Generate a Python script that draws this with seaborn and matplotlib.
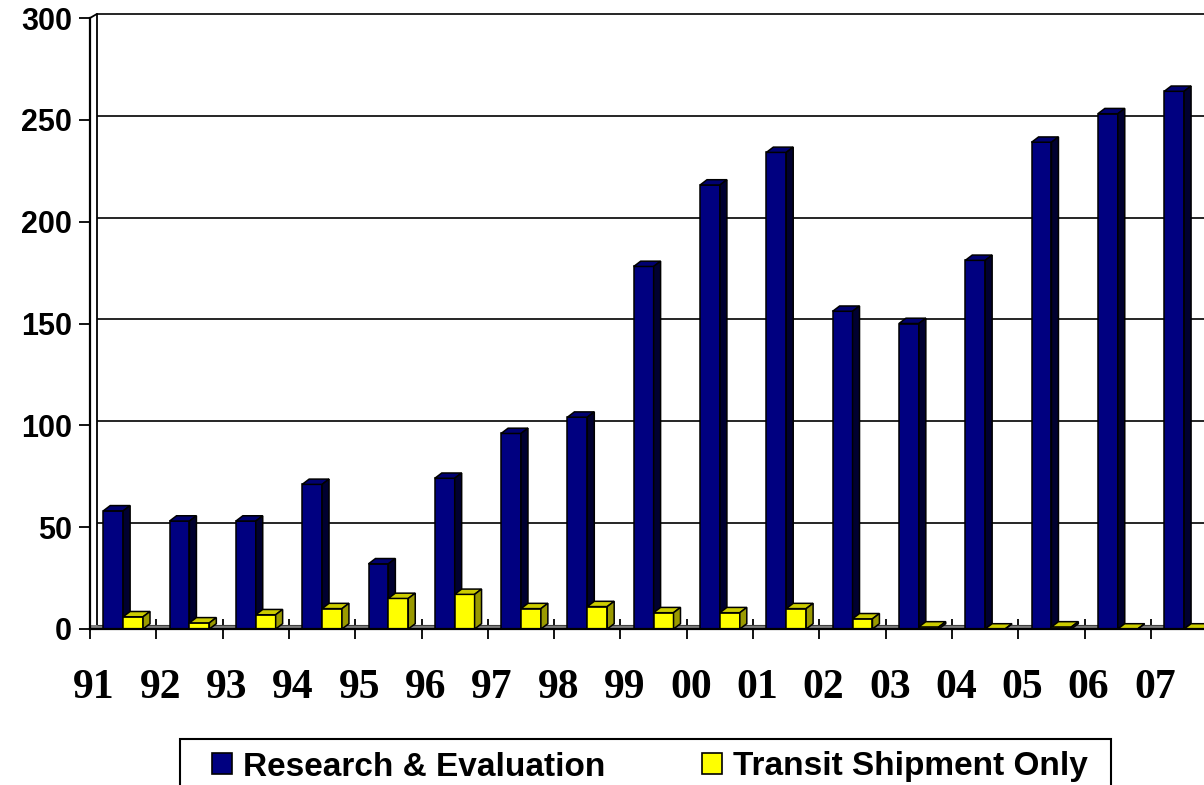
import numpy as np
import pandas as pd
import matplotlib
matplotlib.use("Agg")
import matplotlib.pyplot as plt
from matplotlib.patches import Polygon, Patch, Rectangle
import seaborn as sns

sns.set_style("white")
plt.rcParams['font.family'] = ['Liberation Sans', 'DejaVu Sans']
plt.rcParams['text.color'] = 'black'
plt.rcParams['xtick.color'] = 'black'
plt.rcParams['ytick.color'] = 'black'
plt.rcParams['axes.labelcolor'] = 'black'

# data
years = ['91', '92', '93', '94', '95', '96', '97', '98', '99',
         '00', '01', '02', '03', '04', '05', '06', '07']
research = [58, 53, 53, 71, 32, 74, 96, 104, 178,
            218, 234, 156, 150, 181, 239, 253, 264]
transit = [6, 3, 7, 10, 15, 17, 10, 11, 8,
           8, 10, 5, 1, 0, 1, 0, 0]
series = ['Research & Evaluation', 'Transit Shipment Only']
front_cols = ['#000080', '#ffff00']
side_cols = ['#000030', '#9a9a00']
top_cols = ['#000070', '#cccc00']
y_ticks = [0, 50, 100, 150, 200, 250, 300]

df = pd.DataFrame({
    'year': years * 2,
    'value': research + transit,
    'series': [series[0]] * len(years) + [series[1]] * len(years),
})

fig = plt.figure(figsize=(12.04, 7.85), dpi=100)
ax = fig.add_axes([90 / 1204, 156 / 785, 1 - 90 / 1204, 611 / 785])

sns.barplot(data=df, x='year', y='value', hue='series', order=years,
            hue_order=series, palette=front_cols, saturation=1, width=0.6,
            edgecolor='black', linewidth=1.1, legend=False, ax=ax)

ax.set_ylim(0, 300)
ax.set_xlim(-0.5, 16.3)

# fake 3D depth in data units
dx, dy = 0.105, 2.6
n = len(years)
for k, bar in enumerate(ax.patches):
    s = k // n
    x, w, h = bar.get_x(), bar.get_width(), bar.get_height()
    bar.set_zorder(3 + s)
    top = Polygon([(x, h), (x + w, h), (x + w + dx, h + dy), (x + dx, h + dy)],
                  closed=True, facecolor=top_cols[s], edgecolor='black',
                  linewidth=1.1, zorder=3 + s)
    side = Polygon([(x + w, 0), (x + w, h), (x + w + dx, h + dy), (x + w + dx, dy)],
                   closed=True, facecolor=side_cols[s], edgecolor='black',
                   linewidth=1.1, zorder=3 + s)
    ax.add_patch(top)
    ax.add_patch(side)

# back wall gridlines and wall
ax.hlines([t + 2 for t in y_ticks[1:]], -0.5 + dx, 16.3, color='black',
          linewidth=1.2, zorder=1, clip_on=False)
ax.plot([-0.5 + dx, -0.5 + dx], [2, 302], color='black', linewidth=1.3,
        zorder=1, clip_on=False)
ax.plot([-0.5, -0.5 + dx], [300, 302], color='black', linewidth=1.3,
        zorder=1, clip_on=False)
# floor
ax.fill_between([-0.5, 16.3], 0, 2, color='#808080', zorder=1.5, linewidth=0)
ax.hlines(2, -0.5 + dx, 16.3, color='#404040', linewidth=0.8, zorder=1.6)

sns.despine(ax=ax, top=True, right=True)
for sp in ['left', 'bottom']:
    ax.spines[sp].set_linewidth(1.6)
    ax.spines[sp].set_color('black')
    ax.spines[sp].set_zorder(6)

ax.set_yticks(y_ticks)
ax.set_yticklabels([str(t) for t in y_ticks], fontsize=22, fontweight='bold')
ax.tick_params(axis='y', direction='out', length=8, width=1.3, pad=5,
               left=True, color='black')

ax.set_xticks(np.arange(n) - 0.5)
ax.set_xticklabels([''] * n)
ax.tick_params(axis='x', which='major', direction='inout', length=15,
               width=1.3, bottom=True, color='black')
ax.set_xticks(np.arange(n) - 0.44, minor=True)
ax.set_xticklabels(years, minor=True, fontsize=30, fontweight='bold',
                   family=['Liberation Serif', 'DejaVu Serif'])
ax.tick_params(axis='x', which='minor', length=0, pad=29)
ax.set_xlabel('')
ax.set_ylabel('')

# legend box (runs off the bottom of the picture)
fig.add_artist(Rectangle((180 / 1204, -30 / 785), 931 / 1204, 76 / 785,
                         transform=fig.transFigure, fill=False,
                         edgecolor='black', linewidth=1.5))
handles = [Patch(facecolor=front_cols[i], edgecolor='black', linewidth=1.2,
                 label=series[i]) for i in range(2)]
leg = fig.legend(handles=handles, loc='center left',
                 bbox_to_anchor=(212 / 1204, 1 - 767 / 785, 876 / 1204, 0),
                 mode='expand', ncol=2, frameon=False,
                 prop={'size': 24, 'weight': 'bold'},
                 handlelength=0.6, handleheight=0.6, handletextpad=0.33,
                 columnspacing=1.0, borderpad=0, borderaxespad=0)

fig.savefig('out.png', dpi=100)
